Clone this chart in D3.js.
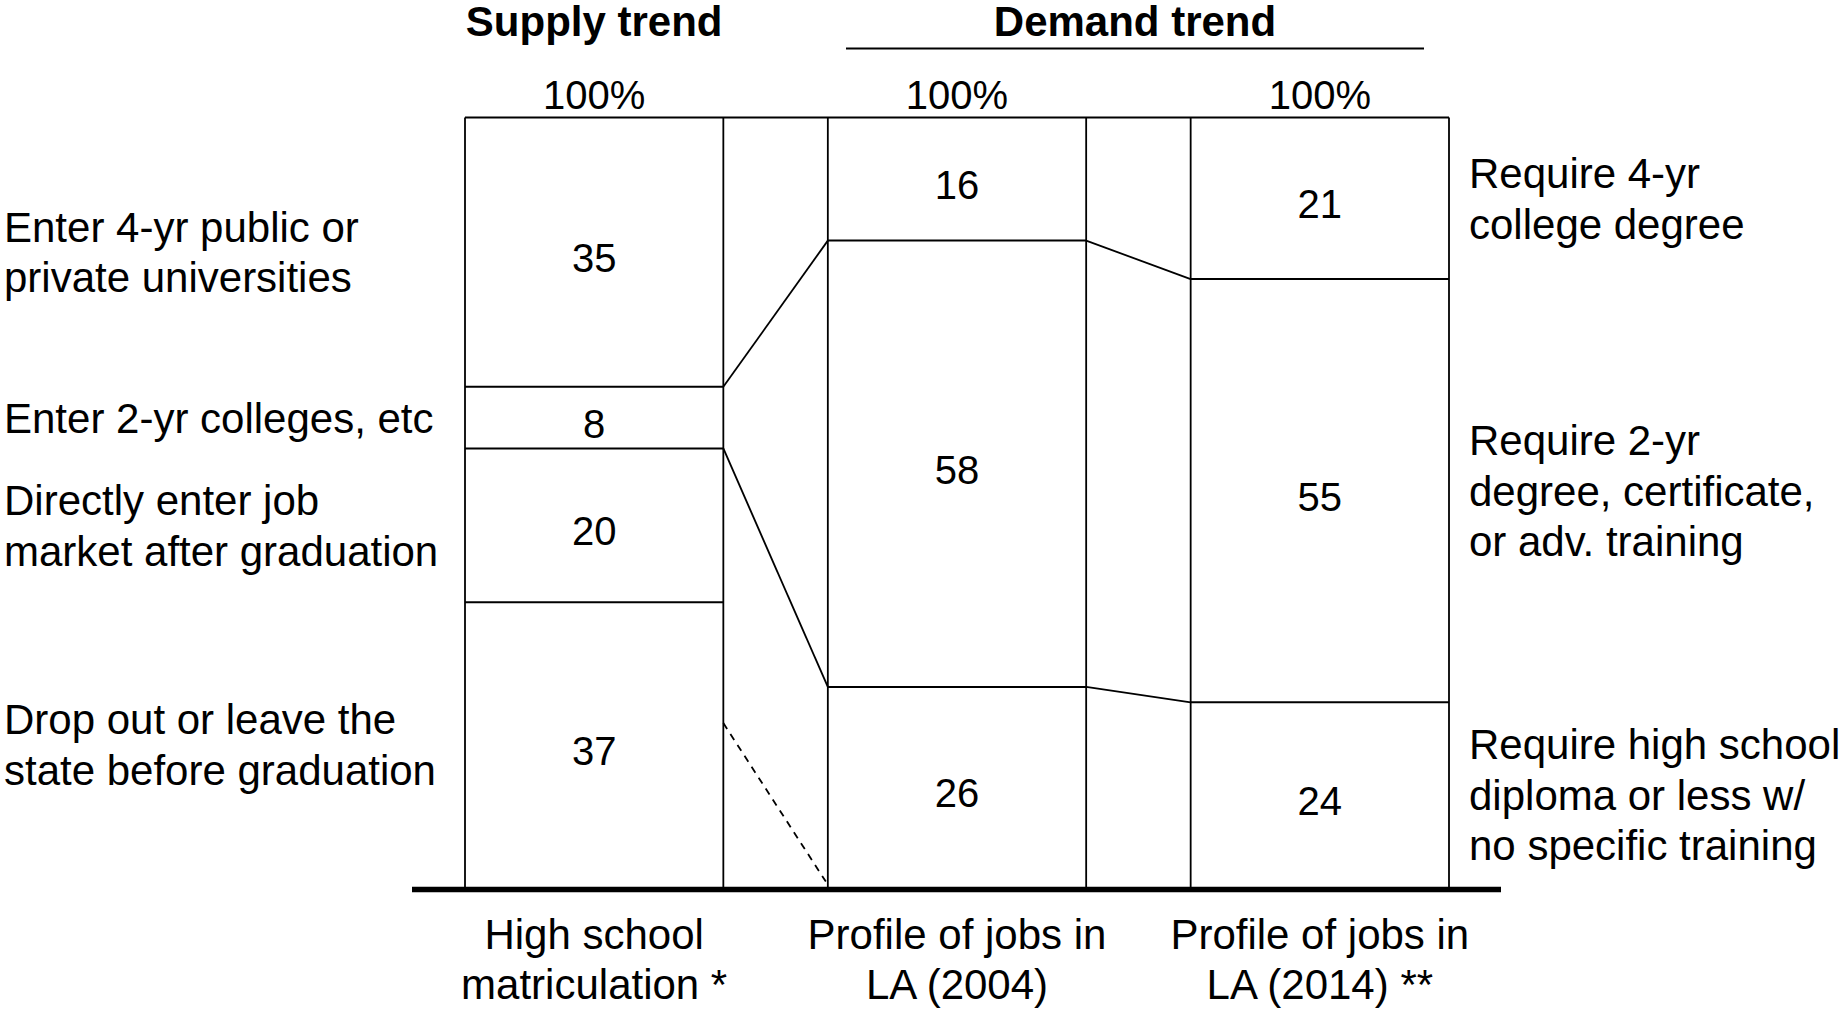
<!DOCTYPE html>
<html>
<head>
<meta charset="utf-8">
<script src="https://cdn.jsdelivr.net/npm/d3@7"></script>
<style>
  body { margin: 0; background: #fff; }
  text { font-family: "Liberation Sans", Arial, sans-serif; fill: #000; }
</style>
</head>
<body>
<svg id="chart" width="1845" height="1009"></svg>
<script>
// data
var columns = ["supply", "jobs2004", "jobs2014"];
var columnLabels = [["High school", "matriculation *"], ["Profile of jobs in", "LA (2004)"], ["Profile of jobs in", "LA (2014) **"]];
var supplyValues = [35, 8, 20, 37];
var jobs2004Values = [16, 58, 26];
var jobs2014Values = [21, 55, 24];
var supplyLabels = [["Enter 4-yr public or", "private universities"], ["Enter 2-yr colleges, etc"],
  ["Directly enter job", "market after graduation"], ["Drop out or leave the", "state before graduation"]];
var demandLabels = [["Require 4-yr", "college degree"], ["Require 2-yr", "degree, certificate,", "or adv. training"],
  ["Require high school", "diploma or less w/", "no specific training"]];
// connectors: cumulative % on left column -> cumulative % on right column
var flows = [
  {from: 0, to: 1, a: 35, b: 16, dashed: false},
  {from: 0, to: 1, a: 43, b: 74, dashed: false},
  {from: 0, to: 1, a: 78.7, b: 99.3, dashed: true},
  {from: 1, to: 2, a: 16, b: 21, dashed: false},
  {from: 1, to: 2, a: 74, b: 76, dashed: false}
];

var svg = d3.select("#chart");
var x = d3.scaleBand().domain(columns).range([465, 1449]).paddingInner(0.288).paddingOuter(0);
var y = d3.scaleLinear().domain([0, 100]).range([117.5, 887]);
var bw = x.bandwidth();

var stacks = [supplyValues, jobs2004Values, jobs2014Values].map(function(vals, i) {
  var acc = 0;
  return vals.map(function(v) { var s = {col: columns[i], v: v, y0: acc, y1: acc + v}; acc += v; return s; });
});

// titles
svg.append("text").attr("x", x("supply") + bw / 2).attr("y", 36).attr("text-anchor", "middle")
  .style("font-size", "42px").style("font-weight", "bold").text("Supply trend");
svg.append("text").attr("x", 1135).attr("y", 36).attr("text-anchor", "middle")
  .style("font-size", "42px").style("font-weight", "bold").text("Demand trend");
svg.append("line").attr("x1", 846).attr("x2", 1424).attr("y1", 48.5).attr("y2", 48.5)
  .attr("stroke", "#000").attr("stroke-width", 1.8);

// 100% labels
svg.selectAll(".top").data(columns).enter().append("text")
  .attr("x", function(d) { return x(d) + bw / 2; }).attr("y", 109)
  .attr("text-anchor", "middle").style("font-size", "40px").text("100%");

// frame: top line and vertical edges
var g = svg.append("g").attr("stroke", "#000").attr("fill", "none");
g.append("line").attr("x1", x("supply")).attr("x2", x("jobs2014") + bw)
  .attr("y1", y(0)).attr("y2", y(0)).attr("stroke-width", 2);
columns.forEach(function(c) {
  [x(c), x(c) + bw].forEach(function(xx) {
    g.append("line").attr("x1", xx).attr("x2", xx).attr("y1", y(0)).attr("y2", y(100)).attr("stroke-width", 1.8);
  });
});

// segment dividers
stacks.forEach(function(st) {
  st.slice(0, -1).forEach(function(s) {
    g.append("line").attr("x1", x(s.col)).attr("x2", x(s.col) + bw)
      .attr("y1", y(s.y1)).attr("y2", y(s.y1)).attr("stroke-width", 2);
  });
});

// connectors
g.selectAll(".flow").data(flows).enter().append("line")
  .attr("x1", function(d) { return x(columns[d.from]) + bw; })
  .attr("x2", function(d) { return x(columns[d.to]) - (d.dashed ? 2 : 0); })
  .attr("y1", function(d) { return y(d.a); })
  .attr("y2", function(d) { return y(d.b); })
  .attr("stroke-width", 1.8)
  .attr("stroke-dasharray", function(d) { return d.dashed ? "7,6" : null; });

// values
stacks.forEach(function(st) {
  svg.selectAll(null).data(st).enter().append("text")
    .attr("x", function(d) { return x(d.col) + bw / 2; })
    .attr("y", function(d) { return y((d.y0 + d.y1) / 2) + 20; })
    .attr("text-anchor", "middle").style("font-size", "40px")
    .text(function(d) { return d.v; });
});

// side labels
function sideLabels(segs, labels, xPos) {
  segs.forEach(function(s, i) {
    var lines = labels[i];
    var mid = y((s.y0 + s.y1) / 2);
    var t = svg.append("text").attr("x", xPos).style("font-size", "42px");
    lines.forEach(function(l, j) {
      t.append("tspan").attr("x", xPos)
        .attr("y", mid + 15 + (j - (lines.length - 1) / 2) * 50.5).text(l);
    });
  });
}
sideLabels(stacks[0], supplyLabels, 4);
sideLabels(stacks[2], demandLabels, 1469);

// baseline
svg.append("line").attr("x1", 412).attr("x2", 1501).attr("y1", y(100) + 2.5).attr("y2", y(100) + 2.5)
  .attr("stroke", "#000").attr("stroke-width", 5.4);

// column labels
columns.forEach(function(c, i) {
  var t = svg.append("text").attr("text-anchor", "middle").style("font-size", "42px");
  columnLabels[i].forEach(function(l, j) {
    t.append("tspan").attr("x", x(c) + bw / 2).attr("y", 949 + j * 50).text(l);
  });
});
</script>
</body>
</html>
